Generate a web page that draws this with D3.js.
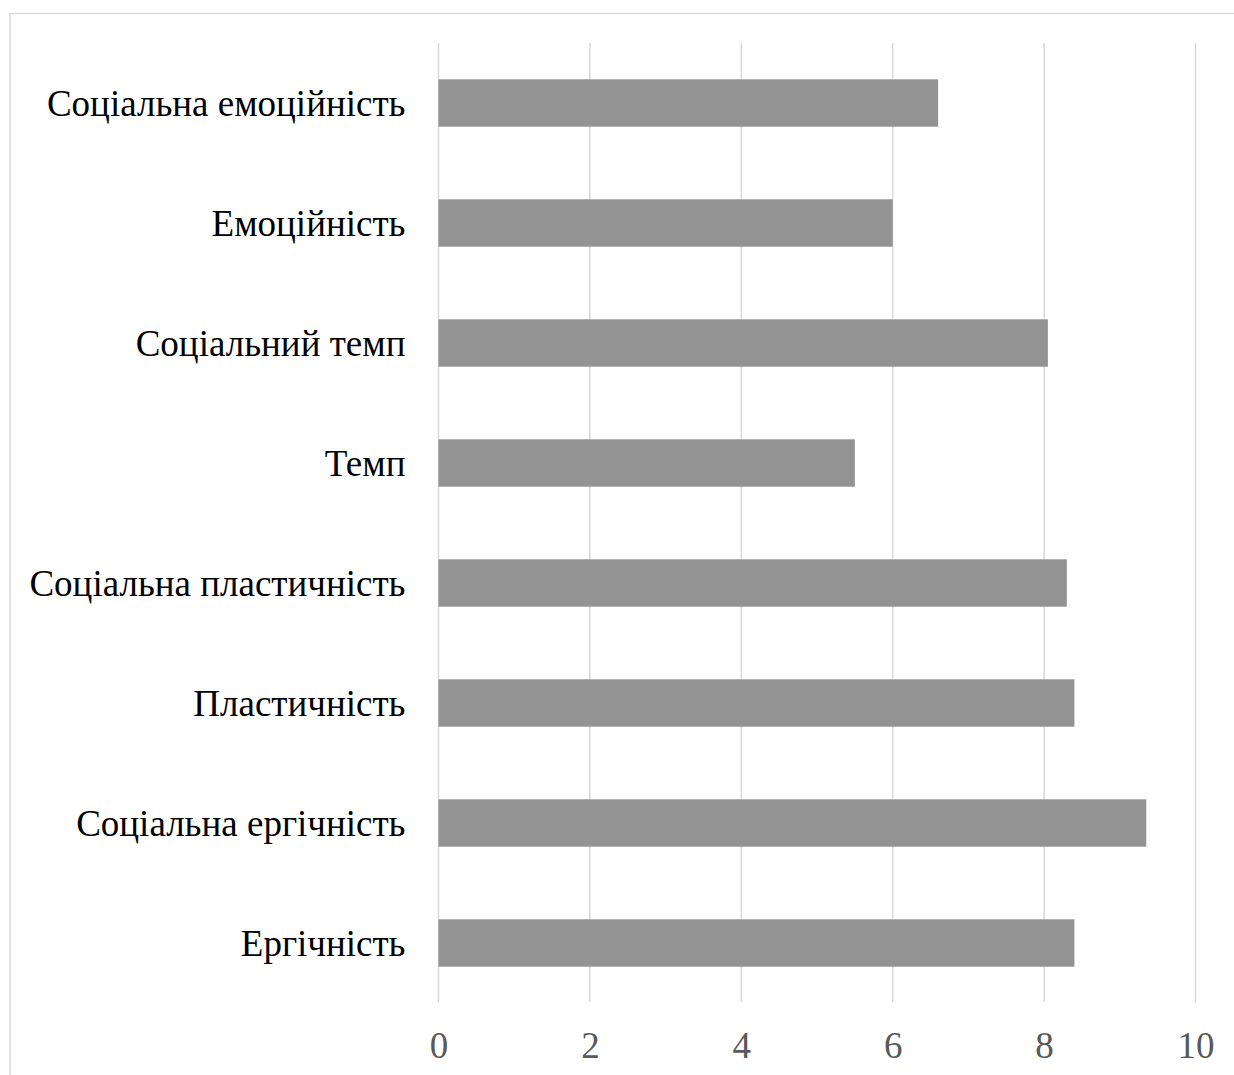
<!DOCTYPE html>
<html>
<head>
<meta charset="utf-8">
<script src="https://cdn.jsdelivr.net/npm/d3@7"></script>
<style>
  html, body { margin: 0; padding: 0; background: #fff; }
  svg { display: block; }
</style>
</head>
<body>
<svg id="chart" width="1234" height="1075"></svg>
<script>
// Categories, top to bottom
const categories = [
  "Соціальна емоційність",
  "Емоційність",
  "Соціальний темп",
  "Темп",
  "Соціальна пластичність",
  "Пластичність",
  "Соціальна ергічність",
  "Ергічність"
];
const values = [6.6, 6.0, 8.05, 5.5, 8.3, 8.4, 9.35, 8.4];
const xTicks = [0, 2, 4, 6, 8, 10];

const svg = d3.select("#chart");
const W = 1234, H = 1075;
const plot = { left: 438.5, right: 1195.5, top: 43, bottom: 1003 };
const font = "'Liberation Serif', 'Times New Roman', serif";

// Chart frame (runs past the right and bottom edges)
svg.append("rect")
  .attr("x", 10).attr("y", 13.5)
  .attr("width", W + 20).attr("height", H + 20)
  .attr("fill", "#fff")
  .attr("stroke", "#d9d9d9").attr("stroke-width", 1.5);

const x = d3.scaleLinear().domain([0, 10]).range([plot.left, plot.right]);
const y = d3.scaleBand().domain(categories)
  .range([plot.top, plot.bottom])
  .paddingInner(0.605).paddingOuter(0.3025);

// Vertical gridlines
svg.append("g")
  .selectAll("line")
  .data(xTicks)
  .join("line")
  .attr("x1", d => x(d)).attr("x2", d => x(d))
  .attr("y1", plot.top).attr("y2", plot.bottom - 1)
  .attr("stroke", "#d9d9d9").attr("stroke-width", 1.5);

// Bars
svg.append("g")
  .selectAll("rect")
  .data(values)
  .join("rect")
  .attr("x", x(0))
  .attr("y", (d, i) => y(categories[i]))
  .attr("width", d => x(d) - x(0))
  .attr("height", y.bandwidth())
  .attr("fill", "#939393");

// Category labels
const yAxis = d3.axisLeft(y).tickSize(0).tickPadding(33);
const gy = svg.append("g")
  .attr("transform", `translate(${plot.left},0)`)
  .call(yAxis);
gy.select(".domain").remove();
gy.selectAll("text")
  .attr("font-family", font)
  .attr("font-size", 37)
  .attr("fill", "#000")
  .attr("dy", "0.34em");

// Value axis labels
const xAxis = d3.axisBottom(x).tickValues(xTicks).tickSize(0).tickPadding(0);
const gx = svg.append("g")
  .attr("transform", `translate(0,${plot.bottom})`)
  .call(xAxis);
gx.select(".domain").remove();
gx.selectAll("text")
  .attr("font-family", font)
  .attr("font-size", 37)
  .attr("fill", "#595959")
  .attr("y", 55)
  .attr("dy", 0);
</script>
</body>
</html>
